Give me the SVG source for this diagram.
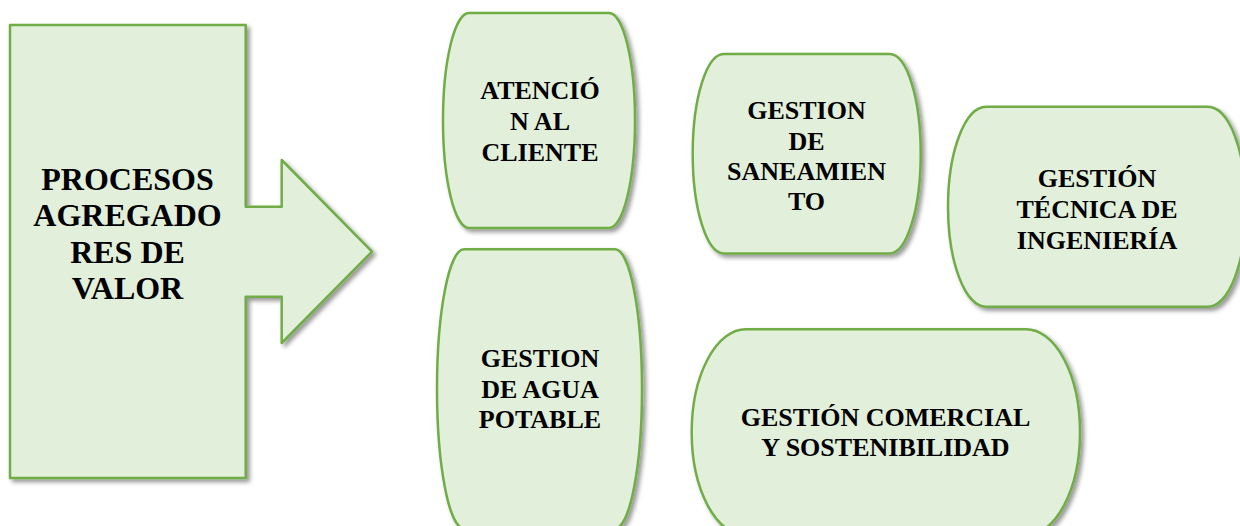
<svg xmlns="http://www.w3.org/2000/svg" width="1240" height="526" viewBox="0 0 1240 526">
  <defs>
    <filter id="shadow" x="-10%" y="-10%" width="125%" height="125%">
      <feDropShadow dx="3" dy="3" stdDeviation="2" flood-color="#000" flood-opacity="0.4"/>
    </filter>
  </defs>
  <style>
    .shape { fill: #E2EFDA; stroke: #70AD47; stroke-width: 2.5; stroke-linejoin: round; filter: url(#shadow); }
    .lbl { font-family: "Liberation Serif", "Times New Roman", serif; font-weight: bold; fill: #000; text-anchor: middle; }
    .big { font-size: 32px; }
    .small { font-size: 26px; }
  </style>
  <rect width="1240" height="526" fill="#fff"/>

  <!-- main block arrow -->
  <g id="procesos">
    <path class="shape" d="M10,25 H245.7 V206.7 H281.7 V160 L372,251.7 L281.7,343 V296.7 H245.7 V478 H10 Z"/>
    <text class="lbl big" x="127.5" y="189.5">PROCESOS</text>
    <text class="lbl big" x="127.5" y="226">AGREGADO</text>
    <text class="lbl big" x="127.5" y="262.7">RES DE</text>
    <text class="lbl big" x="127.5" y="299.4">VALOR</text>
  </g>

  <!-- process nodes: flat top/bottom, elliptical sides -->
  <g id="atencion">
    <path class="shape" d="M469,13 H609 A26,107.5 0 0 1 609,228 H469 A26,107.5 0 0 1 469,13 Z"/>
    <text class="lbl small" x="540" y="99.3">ATENCIÓ</text>
    <text class="lbl small" x="540" y="130">N AL</text>
    <text class="lbl small" x="540" y="160.7">CLIENTE</text>
  </g>

  <g id="saneamiento">
    <path class="shape" d="M723.7,54 H889.7 A31,99.7 0 0 1 889.7,253.4 H723.7 A31,99.7 0 0 1 723.7,54 Z"/>
    <text class="lbl small" x="806.5" y="119">GESTION</text>
    <text class="lbl small" x="806.5" y="149.5">DE</text>
    <text class="lbl small" x="806.5" y="180">SANEAMIEN</text>
    <text class="lbl small" x="806.5" y="210">TO</text>
  </g>

  <g id="ingenieria">
    <path class="shape" d="M986,106.7 H1208 A38,100 0 0 1 1208,306.7 H986 A38,100 0 0 1 986,106.7 Z"/>
    <text class="lbl small" x="1097" y="186.7">GESTIÓN</text>
    <text class="lbl small" x="1097" y="217.7">TÉCNICA DE</text>
    <text class="lbl small" x="1097" y="248.5">INGENIERÍA</text>
  </g>

  <g id="agua">
    <path class="shape" d="M464,249.3 H615 A27,139.5 0 0 1 615,528.3 H464 A27,139.5 0 0 1 464,249.3 Z"/>
    <text class="lbl small" x="540" y="366.7">GESTION</text>
    <text class="lbl small" x="540" y="397.5">DE AGUA</text>
    <text class="lbl small" x="540" y="428.3">POTABLE</text>
  </g>

  <g id="comercial">
    <path class="shape" d="M745.7,329.3 H1026 A54,103 0 0 1 1026,535.3 H745.7 A54,103 0 0 1 745.7,329.3 Z"/>
    <text class="lbl small" x="885.5" y="426">GESTIÓN COMERCIAL</text>
    <text class="lbl small" x="885.5" y="456">Y SOSTENIBILIDAD</text>
  </g>

  <g id="connectors"></g>
</svg>
